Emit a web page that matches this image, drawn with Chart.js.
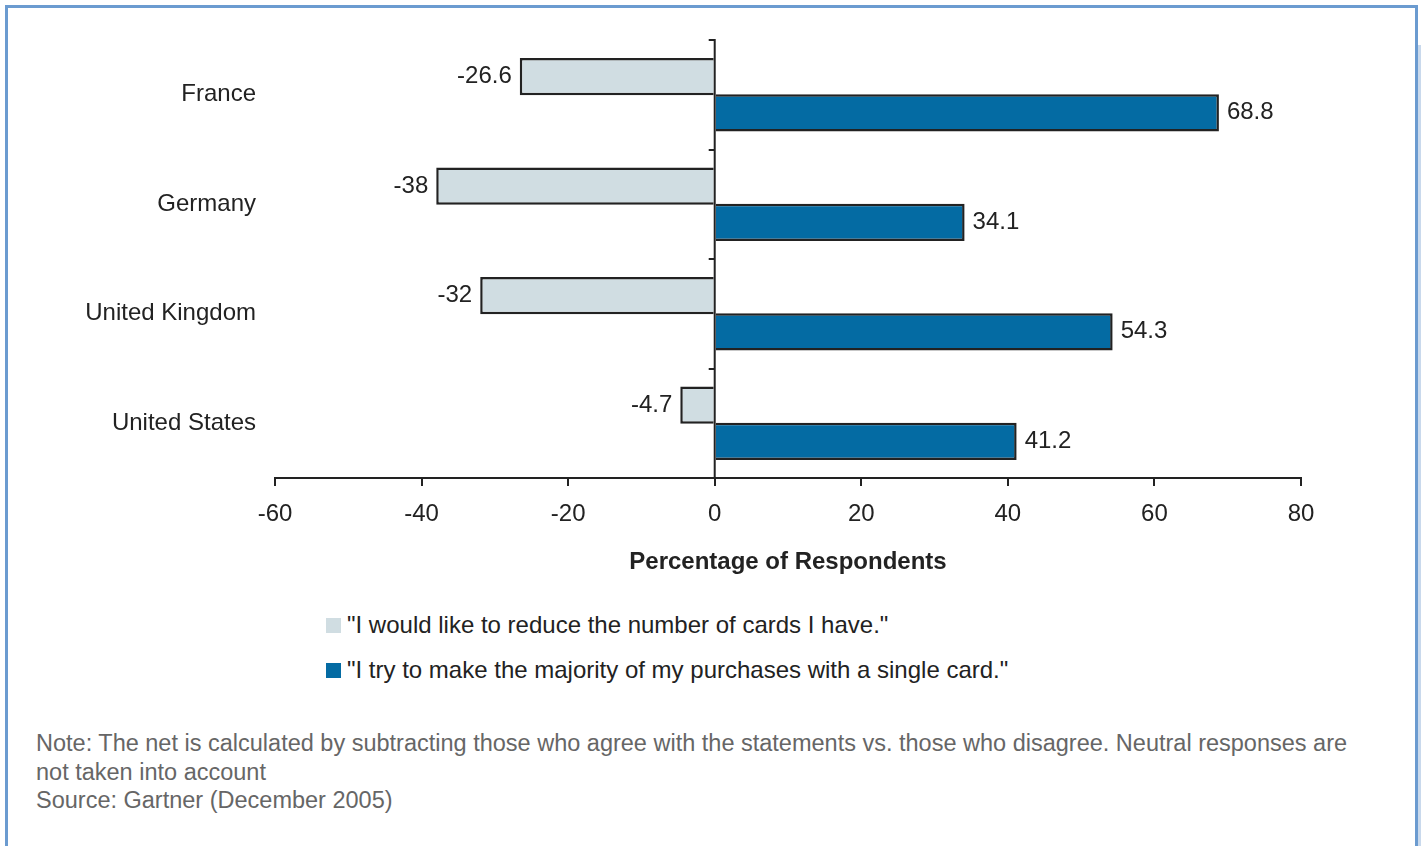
<!DOCTYPE html>
<html>
<head>
<meta charset="utf-8">
<script src="https://cdn.jsdelivr.net/npm/chart.js@4/dist/chart.umd.min.js"></script>
<style>
  html, body { margin: 0; padding: 0; background: #fff; width: 1421px; height: 846px; overflow: hidden; font-family: "Liberation Sans", Arial, sans-serif; }
  #frame { position: absolute; left: 5px; top: 5px; width: 1413px; height: 900px; border: 3px solid #6b9bd0; border-bottom: none; box-sizing: border-box; }
  #strip { position: absolute; left: 1418px; top: 45px; width: 3px; height: 801px; background: #c9d9ec; }
  #chartWrap { position: absolute; left: 0; top: 0; width: 1421px; height: 600px; }
  #legend { position: absolute; left: 326px; top: 611px; color: #222; font-size: 24px; }
  .li { display: flex; align-items: center; height: 28px; margin-bottom: 17px; }
  .sw { width: 15px; height: 15px; margin-right: 6px; }
  #notes { position: absolute; left: 36px; top: 729px; color: #666; font-size: 23.5px; line-height: 28.5px; white-space: nowrap; }
</style>
</head>
<body>
<div id="frame"></div>
<div id="strip"></div>
<div id="chartWrap"><canvas id="c" width="1421" height="600"></canvas></div>
<div id="legend"></div>
<div id="notes">Note: The net is calculated by subtracting those who agree with the statements vs. those who disagree. Neutral responses are<br>not taken into account<br>Source: Gartner (December 2005)</div>
<script>
const categories = ["France", "Germany", "United Kingdom", "United States"];
const seriesNames = ['"I would like to reduce the number of cards I have."', '"I try to make the majority of my purchases with a single card."'];
const reduceCards = [-26.6, -38, -32, -4.7];
const singleCard = [68.8, 34.1, 54.3, 41.2];
const xTicks = [-60, -40, -20, 0, 20, 40, 60, 80];
const colors = ["#d0dde2", "#046ba3"];

const FONT = "'Liberation Sans', Arial, sans-serif";
const TEXT = "#222";

const valueLabels = {
  id: "valueLabels",
  afterDatasetsDraw(chart) {
    const ctx = chart.ctx;
    ctx.save();
    ctx.font = "24px " + FONT;
    ctx.fillStyle = TEXT;
    ctx.textBaseline = "middle";
    chart.data.datasets.forEach((ds, di) => {
      const meta = chart.getDatasetMeta(di);
      meta.data.forEach((el, i) => {
        const v = ds.data[i];
        if (v < 0) { ctx.textAlign = "right"; ctx.fillText(String(v), el.x - 8, el.y); }
        else { ctx.textAlign = "left"; ctx.fillText(String(v), el.x + 8, el.y); }
      });
    });
    ctx.restore();
  }
};

const zeroTicks = {
  id: "zeroTicks",
  afterDatasetsDraw(chart) {
    const ctx = chart.ctx, x = chart.scales.x, y = chart.scales.y;
    const x0 = x.getPixelForValue(0);
    ctx.save();
    ctx.strokeStyle = TEXT;
    ctx.lineWidth = 2;
    const n = categories.length;
    const half = (y.getPixelForValue(1) - y.getPixelForValue(0)) / 2;
    ctx.beginPath();
    for (let i = 0; i < n; i++) {
      const yy = Math.round(y.getPixelForValue(i) - half);
      ctx.moveTo(x0 - 6, yy); ctx.lineTo(x0, yy);
    }
    ctx.moveTo(x0, y.top - 1); ctx.lineTo(x0, y.bottom);
    ctx.stroke();
    ctx.restore();
  }
};

new Chart(document.getElementById("c"), {
  type: "bar",
  data: {
    labels: categories,
    datasets: [
      { label: seriesNames[0], data: reduceCards, backgroundColor: colors[0], borderColor: TEXT, borderWidth: 2.5, borderSkipped: "start", categoryPercentage: 0.66, barPercentage: 1.03 },
      { label: seriesNames[1], data: singleCard, backgroundColor: colors[1], borderColor: TEXT, borderWidth: 2.5, borderSkipped: "start", categoryPercentage: 0.66, barPercentage: 1.03 }
    ]
  },
  options: {
    indexAxis: "y",
    responsive: false,
    animation: false,
    layout: { padding: { top: 40, right: 120, left: 0, bottom: 0 } },
    plugins: { legend: { display: false }, tooltip: { enabled: false } },
    scales: {
      x: {
        min: -60, max: 80,
        afterBuildTicks(scale) { scale.ticks = xTicks.map(v => ({ value: v })); },
        afterFit(scale) { scale.height = 122; },
        grid: { drawOnChartArea: false, tickLength: 8, tickColor: TEXT, lineWidth: 2 },
        border: { display: true, color: TEXT, width: 2 },
        ticks: { font: { family: FONT, size: 24 }, color: TEXT, padding: 14 },
        title: { display: true, text: "Percentage of Respondents", font: { family: FONT, size: 24, weight: "bold" }, color: TEXT, padding: { top: 0, bottom: 23 } }
      },
      y: {
        afterFit(scale) { scale.width = 275; },
        grid: { display: false, drawTicks: false },
        border: { display: false },
        ticks: { font: { family: FONT, size: 24 }, color: TEXT, padding: 19 }
      }
    }
  },
  plugins: [zeroTicks, valueLabels]
});

const legend = document.getElementById("legend");
seriesNames.forEach((name, i) => {
  const d = document.createElement("div");
  d.className = "li";
  const sw = document.createElement("span");
  sw.className = "sw";
  sw.style.background = colors[i];
  const t = document.createElement("span");
  t.textContent = name;
  d.appendChild(sw); d.appendChild(t);
  legend.appendChild(d);
});
</script>
</body>
</html>
